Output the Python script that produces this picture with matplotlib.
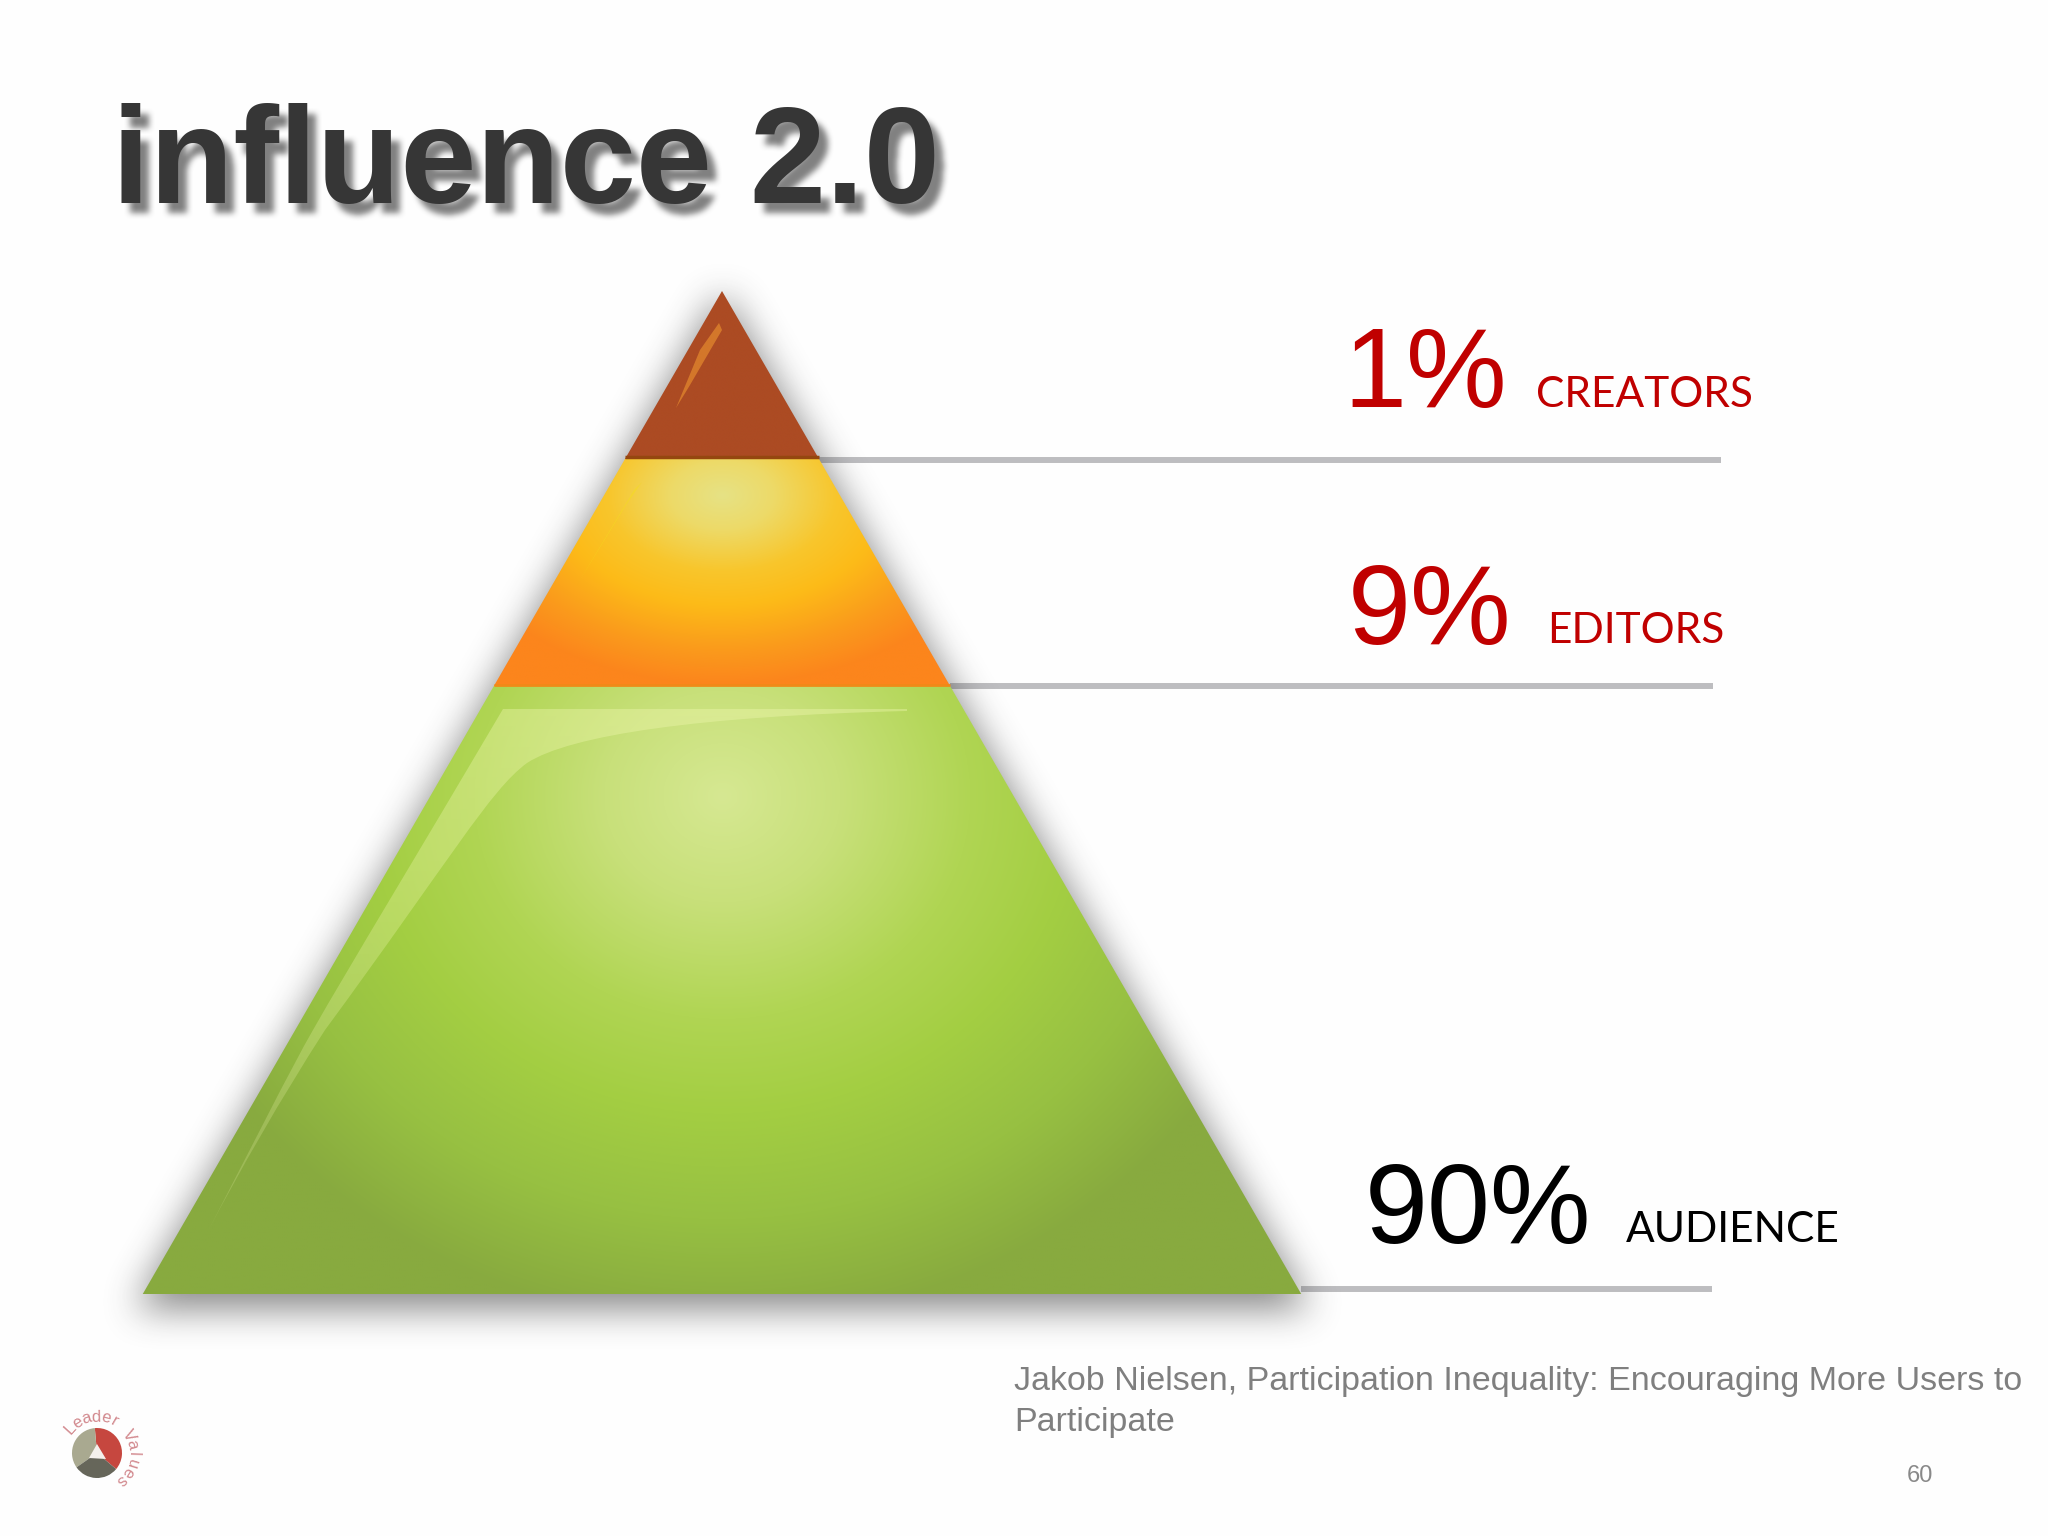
import numpy as np
import matplotlib
matplotlib.use('Agg')
import matplotlib.pyplot as plt
from matplotlib.colors import LinearSegmentedColormap
from matplotlib.font_manager import FontProperties
from matplotlib.patches import Polygon, PathPatch, Wedge
from matplotlib.path import Path
from matplotlib.textpath import TextPath

# the numbers shown on the slide
shares = [1, 9, 90]
share_names = ['CREATORS', 'EDITORS', 'AUDIENCE']
title_text = 'influence 2.0'
source_text = 'Jakob Nielsen, Participation Inequality: Encouraging More Users to\nParticipate'
page_number = '60'
logo_text = 'Leader Values'

# layout in pixels of the 2048x1536 slide
W, H = 2048, 1536
apex_x, apex_y = 722, 291
band_bottoms = [459, 686, 1294]
half_slope = 0.5775
line_ends = [1721, 1713, 1712]
line_ys = [460, 686, 1289]
share_colors = ['#C00000', '#C00000', '#000000']
pct_x = [1343, 1348, 1365]
pct_base = [407, 644, 1243]
name_x = [1536, 1547, 1626]
name_base = [407, 643, 1242]
title_x, title_base, title_size = 112, 203, 98.5


def half_width(y):
    return (y - apex_y) * half_slope


def box_blur(a, r):
    # separable box blur, run on both axes
    for axis in (0, 1):
        c = np.cumsum(np.insert(a, 0, 0, axis=axis), axis=axis)
        n = a.shape[axis]
        lo = np.clip(np.arange(n) - r, 0, n)
        hi = np.clip(np.arange(n) + r + 1, 0, n)
        a = (np.take(c, hi, axis=axis) - np.take(c, lo, axis=axis)) / (2 * r + 1)
    return a


def radial_band(y_top, y_bot, cx, cy, rx, ry, stops):
    # radial gradient clipped to one slice of the pyramid
    hw = half_width(y_bot) + 2
    xs = np.linspace(apex_x - hw, apex_x + hw, 500)
    ys = np.linspace(y_top, y_bot, 400)
    gx, gy = np.meshgrid(xs, ys)
    d = np.sqrt(((gx - cx) / rx) ** 2 + ((gy - cy) / ry) ** 2)
    cmap = LinearSegmentedColormap.from_list('band', stops, N=1024)
    im = ax.imshow(cmap(np.clip(d, 0, 1)), extent=(xs[0], xs[-1], y_bot, y_top),
                   aspect='auto', interpolation='bilinear', zorder=3)
    poly = Polygon([(apex_x - half_width(y_top), y_top), (apex_x + half_width(y_top), y_top),
                    (apex_x + half_width(y_bot), y_bot), (apex_x - half_width(y_bot), y_bot)],
                   transform=ax.transData)
    im.set_clip_path(poly)


fig = plt.figure(figsize=(W / 100, H / 100), dpi=100, facecolor='#FEFEFE')
ax = fig.add_axes([0, 0, 1, 1])
ax.axis('off')

# grey lines go under the shadow, it darkens them close to the pyramid
ax.plot([apex_x + half_width(band_bottoms[0]), line_ends[0]], [line_ys[0]] * 2, color='#BDBDC0', lw=4.3, solid_capstyle='butt', zorder=1)
ax.plot([apex_x + half_width(band_bottoms[1]), line_ends[1]], [line_ys[1]] * 2, color='#BDBDC0', lw=4.3, solid_capstyle='butt', zorder=1)
ax.plot([apex_x + half_width(band_bottoms[2]), line_ends[2]], [line_ys[2]] * 2, color='#BDBDC0', lw=4.3, solid_capstyle='butt', zorder=1)

# soft shadow around the pyramid
gx, gy = np.meshgrid(np.arange(W), np.arange(H))
inside = (gy >= apex_y + 6) & (gy <= band_bottoms[2] + 14) & (np.abs(gx - apex_x) <= (gy - apex_y) * half_slope)
blur = box_blur(box_blur(box_blur(inside.astype(float), 17), 17), 17)
shadow = np.zeros((H, W, 4))
shadow[..., :3] = 0.2
shadow[..., 3] = blur * 0.58
ax.imshow(shadow, extent=(0, W, H, 0), aspect='auto', zorder=2)

# brown top
radial_band(apex_y, band_bottoms[0], apex_x, 380, 200, 200, ['#AC4B23', '#AC4B23'])
ax.add_patch(Polygon([(719, 323), (722, 330), (690, 385), (676, 408), (700, 350)], fc='#E58A2E', ec='none', alpha=0.7, zorder=4))
ax.plot([apex_x - half_width(band_bottoms[0]), apex_x + half_width(band_bottoms[0])], [band_bottoms[0] - 2] * 2,
        color='#95470F', lw=2.5, solid_capstyle='butt', zorder=4)

# orange middle
radial_band(band_bottoms[0], band_bottoms[1], apex_x, 495, 285, 190,
            [(0, '#E6E285'), (0.18, '#EDDA68'), (0.4, '#F8C62C'), (0.58, '#FDBB18'),
             (0.82, '#FA9A1C'), (1, '#FC851C')])
ax.add_patch(Polygon([(642, 482), (634, 490), (577, 585), (626, 505)], fc='#F5DC20', ec='none', alpha=0.55, zorder=4))
ax.plot([apex_x - half_width(band_bottoms[1]), apex_x + half_width(band_bottoms[1])], [band_bottoms[1] - 1] * 2,
        color='#F08A18', lw=2, solid_capstyle='butt', zorder=4)

# green base
radial_band(band_bottoms[1], band_bottoms[2], apex_x, 796, 590, 530,
            [(0, '#D6E892'), (0.2, '#C8E07A'), (0.42, '#B0D553'), (0.6, '#A3CE42'),
             (0.8, '#97C042'), (1, '#88AA3F')])

# gloss on the green part, thin strip that fades out towards the bottom
gloss_path = Path([(503, 709), (907, 709), (907, 711),
                   (700, 716), (570, 735), (527, 763),
                   (490, 790), (450, 860), (325, 1030),
                   (280, 1100), (240, 1170), (207, 1233),
                   (250, 1150), (290, 1070), (313, 1030),
                   (350, 965), (420, 850), (503, 709)],
                  [Path.MOVETO, Path.LINETO, Path.LINETO] + [Path.CURVE4] * 15)
ramp = np.zeros((200, 2, 4))
ramp[..., :3] = 0.95, 0.98, 0.7
ramp[..., 3] = np.linspace(0.38, 0.18, 200)[:, None]
gloss = ax.imshow(ramp, extent=(200, 910, 1235, 705), aspect='auto', zorder=5)
gloss.set_clip_path(PathPatch(gloss_path, transform=ax.transData))

# title shadow: outline of the same text, blurred. xor the contours so the holes stay open
title_font = FontProperties(family='Liberation Sans', weight='bold')
outline = TextPath((0, 0), title_text, size=title_size * 100 / 72, prop=title_font)
sx0, sx1, sy0, sy1 = 90, 980, 80, 240
sgx, sgy = np.meshgrid(np.arange(sx0, sx1), np.arange(sy0, sy1))
pts = np.column_stack([sgx.ravel() - title_x - 8, title_base + 10 - sgy.ravel()])
mask = np.zeros(sgx.shape, dtype=bool)
for contour in outline.to_polygons():
    mask ^= Path(contour).contains_points(pts).reshape(sgx.shape)
title_shadow = np.zeros(mask.shape + (4,))
title_shadow[..., :3] = 0.48
title_shadow[..., 3] = box_blur(box_blur(mask.astype(float), 3), 3) * 0.95
ax.imshow(title_shadow, extent=(sx0, sx1, sy1, sy0), aspect='auto', zorder=7)
ax.text(title_x, title_base, title_text, fontproperties=title_font, fontsize=title_size, color='#363636',
        va='baseline', ha='left', zorder=8)

# percentages and their names
for i in range(len(shares)):
    ax.text(pct_x[i], pct_base[i], f'{shares[i]}%', family='Liberation Sans', fontsize=81.5,
            color=share_colors[i], va='baseline', ha='left', zorder=8)
    ax.text(name_x[i], name_base[i], share_names[i], family='Lato', fontsize=30.5,
            color=share_colors[i], va='baseline', ha='left', zorder=8)

# source and page number
ax.text(1014, 1390, source_text.split('\n')[0], family='Liberation Sans', fontsize=24.5, color='#7F7F7F', va='baseline', zorder=8)
ax.text(1014, 1431, source_text.split('\n')[1], family='Liberation Sans', fontsize=24.5, color='#7F7F7F', va='baseline', zorder=8)
ax.text(1907, 1482, page_number, family='Liberation Sans', fontsize=17, color='#898989', va='baseline', zorder=8)

# small round logo in the corner, y axis is flipped so the angles run clockwise
logo_x, logo_y = 97, 1453
ax.add_patch(Wedge((logo_x, logo_y), 25, -95, 40, fc='#C6473F', ec='none', zorder=6))
ax.add_patch(Wedge((logo_x, logo_y), 25, 145, 265, fc='#A9A990', ec='none', zorder=6))
ax.add_patch(Wedge((logo_x, logo_y), 25, 40, 145, fc='#66665A', ec='none', zorder=6))
ax.add_patch(Polygon([(logo_x, logo_y - 9), (logo_x + 9, logo_y + 6), (logo_x - 8, logo_y + 5)], fc='#F4F0EC', ec='none', zorder=7))
n = len(logo_text)
for i, ch in enumerate(logo_text):
    ang = np.deg2rad(138 - 186 * i / (n - 1))
    ax.text(logo_x + 36 * np.cos(ang), logo_y - 36 * np.sin(ang), ch, family='Liberation Sans', fontsize=12,
            color='#D2898E', rotation=np.rad2deg(ang) - 90, rotation_mode='anchor', ha='center', va='center', zorder=8)

ax.set_xlim(0, W)
ax.set_ylim(H, 0)
fig.savefig('out.png', dpi=100, facecolor=fig.get_facecolor())
